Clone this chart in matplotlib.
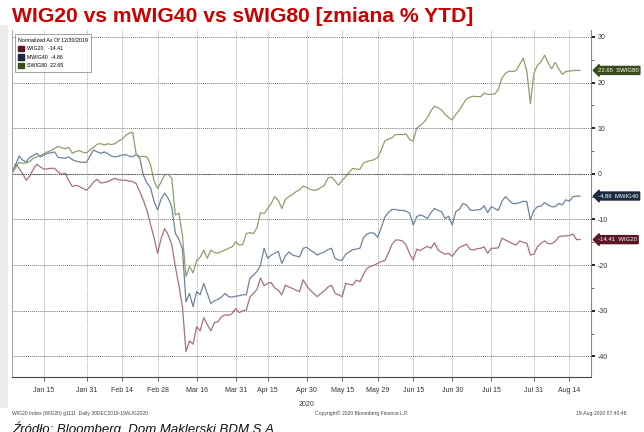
import matplotlib
matplotlib.use("Agg")
import matplotlib.pyplot as plt
import matplotlib.transforms as mtransforms
from matplotlib.patches import Patch, Rectangle
import numpy as np
import pandas as pd

# trading days on the WSE (weekends and exchange holidays removed)
holidays = ['2019-12-31', '2020-01-01', '2020-01-06', '2020-04-10',
            '2020-04-13', '2020-05-01', '2020-06-11']
dates = pd.bdate_range('2019-12-30', '2020-08-19')
dates = dates[~dates.isin(pd.to_datetime(holidays))]

# % change since 30.12.2019
wig20 = [
    0.0, 2.2, 1.2, 0.0, -1.4, -0.5, 1.0, 2.1, 1.5, 1.0,
    1.1, 1.2, 1.2, 0.4, -0.1, 0.1, -1.5, -2.8, -2.5, -2.8,
    -3.2, -3.6, -2.8, -1.8, -1.2, -2.0, -1.9, -1.7, -1.3, -1.0,
    -1.3, -1.4, -1.4, -1.6, -1.7, -2.2, -3.9, -5.8, -8.0, -11.0,
    -14.0, -17.4, -14.2, -12.0, -13.4, -15.5, -20.3, -24.4, -29.1, -38.9,
    -36.6, -37.3, -33.5, -34.4, -31.5, -33.0, -34.4, -32.6, -32.4, -31.3,
    -30.9, -31.0, -30.6, -29.5, -30.4, -30.0, -29.8, -27.0, -26.2, -25.3,
    -22.8, -24.5, -24.0, -23.8, -25.0, -25.5, -26.5, -24.4, -24.8, -25.1,
    -25.5, -25.8, -23.2, -24.5, -25.5, -26.2, -26.9, -26.2, -25.6, -24.8,
    -24.4, -26.2, -26.5, -26.9, -24.0, -24.2, -24.4, -23.3, -23.6, -22.0,
    -20.7, -20.3, -20.0, -19.6, -19.2, -19.0, -17.4, -15.5, -14.5, -14.5,
    -14.7, -15.6, -17.5, -18.9, -16.5, -16.8, -16.3, -15.9, -16.3, -15.1,
    -16.7, -17.2, -17.6, -17.4, -18.1, -17.0, -16.1, -15.8, -15.4, -16.5,
    -16.7, -16.4, -16.3, -16.0, -17.4, -16.3, -16.3, -16.2, -14.1, -14.5,
    -14.9, -15.3, -15.6, -14.7, -15.0, -15.2, -17.8, -17.6, -16.0, -15.2,
    -14.7, -15.3, -15.3, -14.8, -13.8, -13.6, -13.6, -13.5, -13.2, -14.4,
    -14.41,
]
mwig40 = [
    0.0, 1.9, 3.9, 3.0, 2.6, 3.6, 4.0, 4.5, 3.7, 4.1,
    4.5, 4.6, 4.8, 3.6, 3.5, 3.4, 3.7, 3.1, 2.8, 2.6,
    2.5, 2.5, 4.0, 5.2, 4.8, 4.5, 4.8, 4.4, 3.9, 3.7,
    3.9, 4.1, 4.2, 3.9, 3.7, 4.3, 3.4, -0.3, -2.0, -3.0,
    -6.0, -7.9, -5.5, -4.2, -5.4, -7.2, -13.0, -14.3, -16.5, -28.0,
    -26.2, -29.1, -25.8, -26.5, -24.0, -26.2, -28.4, -27.8, -27.5, -27.0,
    -26.2, -26.9, -27.0, -26.8, -26.7, -26.5, -26.5, -22.9, -22.2, -21.4,
    -20.0, -16.3, -18.5, -17.8, -17.4, -17.0, -19.6, -18.0, -17.1, -17.8,
    -18.0, -18.2, -16.3, -16.1, -16.7, -17.2, -17.8, -17.4, -17.1, -16.6,
    -16.3, -18.5, -18.9, -18.9, -17.6, -17.1, -16.6, -16.5, -16.3, -14.0,
    -13.2, -12.9, -13.0, -13.9, -11.8, -9.5, -8.5, -7.8, -7.8, -8.0,
    -8.0, -8.2, -8.6, -11.2, -9.4, -9.0, -9.3, -9.8, -8.5, -7.6,
    -8.0, -8.3, -9.8, -9.3, -11.2, -8.3, -7.8, -6.5, -6.8, -7.9,
    -8.0, -7.9, -7.8, -7.0, -8.5, -7.2, -7.6, -8.0, -6.0, -5.0,
    -5.8, -6.5, -6.5, -6.3, -6.0, -6.1, -10.1, -8.0, -7.2, -7.1,
    -6.3, -6.8, -7.2, -7.2, -6.5, -6.8, -5.7, -6.0, -5.0, -4.9,
    -4.86,
]
swig80 = [
    0.0, 1.4, 2.5, 2.3, 2.4, 2.7, 3.4, 3.7, 4.0, 4.4,
    4.8, 5.1, 5.6, 6.0, 5.7, 5.5, 5.8, 4.5, 4.9, 5.1,
    4.7, 4.6, 5.3, 5.8, 6.5, 6.6, 6.3, 6.6, 6.4, 6.6,
    7.2, 7.6, 8.4, 8.9, 9.1, 4.2, 3.8, 3.8, 3.7, 2.0,
    -1.5, -3.2, -1.8, -0.2, -0.1, -1.0, -9.0, -8.6, -13.5, -22.5,
    -20.3, -21.7, -19.0, -18.3, -16.7, -18.5, -16.7, -17.2, -17.4, -17.0,
    -16.7, -16.3, -16.0, -14.9, -15.6, -15.5, -13.1, -12.9, -13.1, -11.8,
    -8.5, -8.7, -7.6, -6.5, -5.0, -5.8, -7.6, -5.6, -5.0, -4.5,
    -3.9, -3.5, -2.7, -3.0, -3.4, -3.6, -3.5, -3.0, -2.5, -0.9,
    -0.7, -1.6, -2.5, -1.4, -0.6, 0.4, 1.2, 1.0, 1.0, 2.4,
    2.7, 2.9, 3.1, 3.6, 5.2, 7.2, 7.6, 7.9, 8.6, 8.6,
    8.6, 8.7, 7.5, 7.2, 10.0, 10.6, 11.3, 12.3, 13.8, 14.8,
    14.5, 14.0, 13.0, 12.3, 11.8, 13.0, 14.0, 15.2, 16.4, 16.8,
    17.0, 16.9, 16.9, 17.7, 17.4, 17.4, 17.5, 18.5, 21.0, 22.0,
    22.5, 22.4, 22.6, 24.0, 25.3, 22.5, 15.4, 22.0, 23.8, 24.5,
    26.0, 24.3, 23.0, 24.4, 23.0, 21.8, 22.4, 22.5, 22.6, 22.65,
    22.65,
]

tick_dates = ['2020-01-15', '2020-01-31', '2020-02-14', '2020-02-28', '2020-03-16',
              '2020-03-31', '2020-04-15', '2020-04-30', '2020-05-15', '2020-05-29',
              '2020-06-15', '2020-06-30', '2020-07-15', '2020-07-31', '2020-08-14']
tick_labels = ['Jan 15', 'Jan 31', 'Feb 14', 'Feb 28', 'Mar 16', 'Mar 31', 'Apr 15',
               'Apr 30', 'May 15', 'May 29', 'Jun 15', 'Jun 30', 'Jul 15', 'Jul 31',
               'Aug 14']
y_ticks = [30, 20, 10, 0, -10, -20, -30, -40]

names = ['WIG20', 'MWIG40', 'SWIG80']
series = [wig20, mwig40, swig80]
line_colors = ['#a7707a', '#6f829c', '#8d9f6c']
box_colors = ['#5a1624', '#1b2a40', '#394d1c']

plt.rcParams['font.family'] = ['Liberation Sans', 'DejaVu Sans']

fig = plt.figure(figsize=(6.44, 4.32), dpi=100)
ax = fig.add_axes([12 / 644, 1 - 377 / 432, 578.7 / 644, 347 / 432])

x = np.arange(len(dates))
for vals, c in zip(series, line_colors):
    ax.plot(x, vals, color=c, lw=0.9)

ax.set_xlim(0, 163)
ax.set_ylim(-44.5, 31.5)

xt = dates.get_indexer(pd.to_datetime(tick_dates))
ax.set_xticks(xt)
ax.set_xticklabels(tick_labels, fontsize=5, color='#333333')
ax.set_yticks(y_ticks)
ax.set_yticklabels([str(v) for v in y_ticks], fontsize=5, color='#333333')
ax.set_yticks(np.arange(-40, 31, 5), minor=True)
ax.yaxis.tick_right()
ax.tick_params(axis='y', which='major', direction='out', length=3, width=1.4,
               color='#222222', pad=2)
ax.tick_params(axis='y', which='minor', direction='out', length=2, width=0.6,
               color='#555555')
ax.tick_params(axis='x', direction='out', length=3, width=0.6, color='#444444', pad=4)

ax.grid(axis='y', color='#777777', linestyle=(0, (1, 1)), lw=0.7)
ax.grid(axis='x', color='#a8a8a8', linestyle=(0, (1, 1)), lw=0.7)
ax.axhline(0, color='#555555', linestyle=(0, (1, 1)), lw=0.8)

ax.spines['top'].set_visible(False)
ax.spines['left'].set_linestyle((0, (1, 1)))
ax.spines['left'].set_color('#a8a8a8')
ax.spines['left'].set_linewidth(0.7)
ax.spines['right'].set_color('#888888')
ax.spines['bottom'].set_color('#444444')
ax.spines['right'].set_linewidth(0.8)
ax.spines['bottom'].set_linewidth(0.8)

# year below the axis
ax.text(dates.get_loc(pd.Timestamp('2020-04-30')), -0.07, '2020',
        transform=mtransforms.blended_transform_factory(ax.transData, ax.transAxes),
        ha='center', va='top', fontsize=5, color='#333333')

# last-value tags on the right axis
tr = mtransforms.blended_transform_factory(ax.transAxes, ax.transData)
for n, vals, c in zip(names, series, box_colors):
    ax.text(1.012, vals[-1], f'{vals[-1]:.2f}  {n}', transform=tr, fontsize=4.3,
            color='white', va='center', ha='left', clip_on=False,
            bbox=dict(boxstyle='larrow,pad=0.25', fc=c, ec=c))

# legend box
handles = [Patch(fc=c, ec=c) for c in box_colors]
labels = [f'{n:<8}{vals[-1]:.2f}' for n, vals in zip(names, series)]
leg = ax.legend(handles, labels, title='Normalized As Of 12/30/2019',
                loc='upper left', bbox_to_anchor=(0.0, 0.995), fontsize=3.8,
                title_fontsize=3.8, frameon=True, fancybox=False,
                handlelength=1.2, handleheight=1.2, handletextpad=0.5,
                labelspacing=0.6, borderpad=0.6)
leg.get_frame().set_edgecolor('#777777')
leg.get_frame().set_linewidth(0.6)
leg._legend_box.align = 'left'

# grey strip at left edge
fig.patches.append(Rectangle((0, 1 - 408 / 432), 8 / 644, 383 / 432,
                             transform=fig.transFigure, fc='#ececec', ec='none'))

fig.text(12 / 644, 1 - 22 / 432, 'WIG20 vs mWIG40 vs sWIG80 [zmiana % YTD]',
         color='#cc0000', fontsize=15.2, fontweight='bold', va='baseline')

fig.text(12 / 644, 1 - 413 / 432,
         'WIG20 Index (WIG20) g1111  Daily 30DEC2019-19AUG2020',
         fontsize=3.6, color='#444444', va='center')
fig.text(362 / 644, 1 - 413 / 432, 'Copyright\u00a9 2020 Bloomberg Finance L.P.',
         fontsize=3.6, color='#444444', va='center', ha='center')
fig.text(626 / 644, 1 - 413 / 432, '19-Aug-2020 07:40:48',
         fontsize=3.6, color='#444444', va='center', ha='right')

fig.text(12 / 644, 1 - 433 / 432, 'Źródło: Bloomberg, Dom Maklerski BDM S.A.',
         fontsize=9.5, style='italic', color='#111111', va='baseline')

fig.savefig('out.png', dpi=100)
